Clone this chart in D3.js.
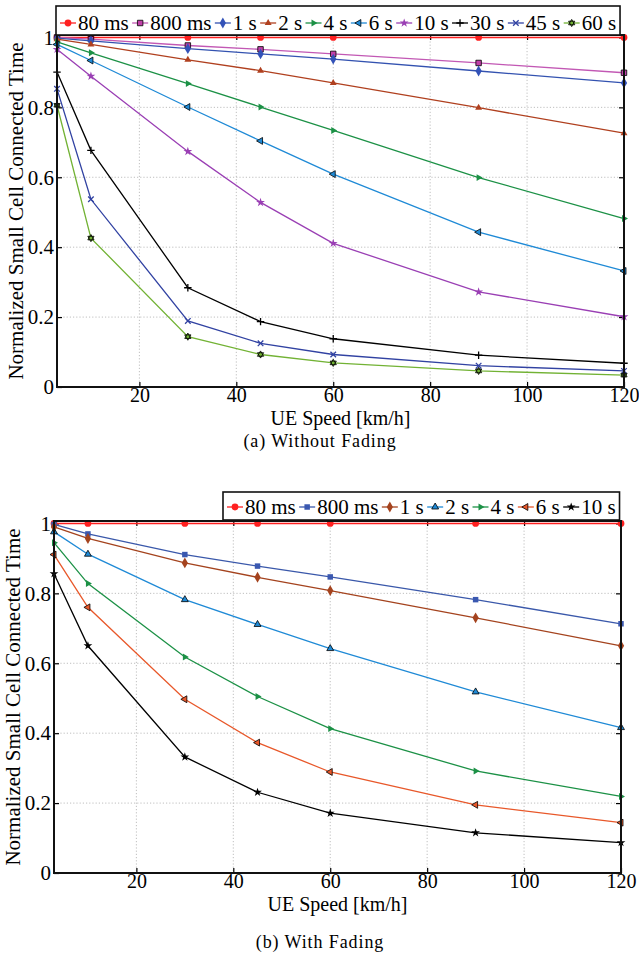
<!DOCTYPE html>
<html>
<head>
<meta charset="utf-8">
<script src="https://cdn.jsdelivr.net/npm/d3@7"></script>
<style>
  body { margin: 0; background: #fff; }
  svg { display: block; }
  text { font-family: "Liberation Serif", "Times New Roman", serif; fill: #000; }
</style>
</head>
<body>
<svg id="fig" width="639" height="969"></svg>
<script>
// ---- data -------------------------------------------------------------
const speeds = [3, 10, 30, 45, 60, 90, 120];          // UE speed [km/h]
const xTicks = [20, 40, 60, 80, 100, 120];
const yTicks = [0, 0.2, 0.4, 0.6, 0.8, 1];
const yTickLabels = ["0", "0.2", "0.4", "0.6", "0.8", "1"];

// (a) without fading: normalized small cell connected time per TTT
const namesA = ["80 ms", "800 ms", "1 s", "2 s", "4 s", "6 s", "10 s", "30 s", "45 s", "60 s"];
const a80ms  = [1.000, 1.000, 1.000, 1.000, 1.000, 1.000, 1.000];
const a800ms = [1.000, 0.995, 0.977, 0.966, 0.953, 0.927, 0.899];
const a1s    = [0.998, 0.990, 0.968, 0.953, 0.938, 0.904, 0.870];
const a2s    = [0.995, 0.980, 0.936, 0.905, 0.870, 0.799, 0.726];
const a4s    = [0.987, 0.956, 0.868, 0.801, 0.734, 0.599, 0.482];
const a6s    = [0.980, 0.934, 0.801, 0.704, 0.609, 0.443, 0.332];
const a10s   = [0.966, 0.889, 0.674, 0.528, 0.411, 0.272, 0.201];
const a30s   = [0.901, 0.677, 0.284, 0.187, 0.138, 0.091, 0.068];
const a45s   = [0.853, 0.537, 0.189, 0.125, 0.093, 0.061, 0.046];
const a60s   = [0.806, 0.426, 0.144, 0.093, 0.069, 0.046, 0.034];

// (b) with fading
const namesB = ["80 ms", "800 ms", "1 s", "2 s", "4 s", "6 s", "10 s"];
const b80ms  = [1.000, 1.000, 1.000, 1.000, 1.000, 1.000, 1.000];
const b800ms = [0.997, 0.970, 0.911, 0.878, 0.847, 0.782, 0.713];
const b1s    = [0.990, 0.957, 0.887, 0.846, 0.808, 0.730, 0.650];
const b2s    = [0.976, 0.912, 0.782, 0.711, 0.642, 0.518, 0.416];
const b4s    = [0.945, 0.828, 0.618, 0.505, 0.413, 0.292, 0.219];
const b6s    = [0.911, 0.760, 0.497, 0.373, 0.289, 0.195, 0.144];
const b10s   = [0.856, 0.650, 0.332, 0.231, 0.171, 0.115, 0.087];

// ---- styles -----------------------------------------------------------
const stylesA = [
  { line: "#ff2020", mark: "circle",   fill: "#ff2020", edge: null },
  { line: "#c258b4", mark: "square",   fill: "#c040a8", edge: "#000" },
  { line: "#3352b0", mark: "diamond",  fill: "#3352b8", edge: null },
  { line: "#b0401f", mark: "triUp",    fill: "#b0401f", edge: null },
  { line: "#1c9146", mark: "triRight", fill: "#1c9146", edge: null },
  { line: "#1f8ad6", mark: "triLeft",  fill: "#1f8ad6", edge: "#000" },
  { line: "#9a3fb4", mark: "star",     fill: "#9a3fb4", edge: null },
  { line: "#000000", mark: "plus",     fill: null,      edge: "#000" },
  { line: "#3142a2", mark: "times",    fill: null,      edge: "#3142a2" },
  { line: "#72b234", mark: "hexagram", fill: "#72b234", edge: "#000" }
];
const stylesB = [
  { line: "#ff2020", mark: "circle",   fill: "#ff2020", edge: null },
  { line: "#3a58aa", mark: "square",   fill: "#3a58b0", edge: null },
  { line: "#a4431e", mark: "diamond",  fill: "#a4431e", edge: null },
  { line: "#1f8ad6", mark: "triUp",    fill: "#1f8ad6", edge: "#000" },
  { line: "#1c9146", mark: "triRight", fill: "#1c9146", edge: null },
  { line: "#e8582a", mark: "triLeft",  fill: "#e8582a", edge: "#000" },
  { line: "#000000", mark: "star",     fill: "#000",    edge: null }
];

function markerPath(kind) {
  const r = 4;
  const tri = (a, s) => {
    const p = [0, 1, 2].map(i => {
      const t = a + i * 2 * Math.PI / 3;
      return [s * Math.cos(t), s * Math.sin(t)];
    });
    return "M" + p.map(q => q[0].toFixed(2) + "," + q[1].toFixed(2)).join("L") + "Z";
  };
  switch (kind) {
    case "circle":   return d3.symbol(d3.symbolCircle, 36)();
    case "square":   return d3.symbol(d3.symbolSquare, 30)();
    case "diamond":  return d3.symbol(d3.symbolDiamond, 34)();
    case "triUp":    return tri(-Math.PI / 2, r);
    case "triRight": return tri(0, r);
    case "triLeft":  return tri(Math.PI, r);
    case "star":     return d3.symbol(d3.symbolStar, 24)();
    case "plus":     return d3.symbol(d3.symbolPlus, 20)();
    case "times":    return d3.symbol(d3.symbolTimes, 22)();
    case "hexagram": return tri(-Math.PI / 2, 3.6) + tri(Math.PI / 2, 3.6);
  }
}

const svg = d3.select("#fig");

function drawPanel(cfg) {
  const { left, right, top, bottom, series, names, styles, legend, caption } = cfg;
  const yMax = 1.007;
  const x = d3.scaleLinear().domain([3, 120]).range([left, right]);
  const y = d3.scaleLinear().domain([0, yMax]).range([bottom, top]);
  const g = svg.append("g");

  // dotted grid
  g.append("g").selectAll("line").data(xTicks.filter(t => t < 120)).join("line")
    .attr("x1", d => x(d)).attr("x2", d => x(d)).attr("y1", top).attr("y2", bottom)
    .attr("stroke", "#b8b8b8").attr("stroke-width", 0.9).attr("stroke-dasharray", "1.2,2");
  g.append("g").selectAll("line").data(yTicks.filter(t => t > 0 && t < 1)).join("line")
    .attr("y1", d => y(d)).attr("y2", d => y(d)).attr("x1", left).attr("x2", right)
    .attr("stroke", "#b8b8b8").attr("stroke-width", 0.9).attr("stroke-dasharray", "1.2,2");

  // axes with inward ticks on all four sides
  const ax = (gen, tr, fs) => {
    const a = g.append("g").attr("transform", tr).call(gen);
    a.select(".domain").remove();
    a.selectAll(".tick line").attr("stroke", "#000").attr("stroke-width", 1.2);
    a.selectAll("text").style("font-size", fs).style("font-family", "'Liberation Serif', serif");
    return a;
  };
  ax(d3.axisBottom(x).tickValues(xTicks).tickSizeInner(-5).tickSizeOuter(0).tickPadding(1),
     `translate(0,${bottom})`, "20px");
  ax(d3.axisTop(x).tickValues(xTicks).tickSizeInner(-5).tickSizeOuter(0).tickFormat(""),
     `translate(0,${top})`, "20px");
  ax(d3.axisLeft(y).tickValues(yTicks).tickSizeInner(-5).tickSizeOuter(0).tickPadding(3)
       .tickFormat((d, i) => yTickLabels[i]), `translate(${left},0)`, "21px");
  ax(d3.axisRight(y).tickValues(yTicks).tickSizeInner(-5).tickSizeOuter(0).tickFormat(""),
     `translate(${right},0)`, "20px");

  // series
  const line = d3.line().x((d, i) => x(speeds[i])).y(d => y(d));
  series.forEach((vals, k) => {
    const st = styles[k];
    g.append("path").attr("d", line(vals)).attr("fill", "none")
      .attr("stroke", st.line).attr("stroke-width", k === 0 ? 1.6 : 1.3);
    g.append("g").selectAll("path").data(vals).join("path")
      .attr("transform", (d, i) => `translate(${x(speeds[i])},${y(d)})`)
      .attr("d", markerPath(st.mark))
      .attr("fill", st.fill || "none")
      .attr("stroke", st.edge || "none")
      .attr("stroke-width", st.fill ? 0.8 : 1.3);
  });

  // frame
  g.append("rect").attr("x", left).attr("y", top).attr("width", right - left).attr("height", bottom - top)
    .attr("fill", "none").attr("stroke", "#111").attr("stroke-width", 2);

  // axis titles
  g.append("text").attr("x", (left + right) / 2).attr("y", bottom + 38)
    .attr("text-anchor", "middle").style("font-size", "20px").text("UE Speed [km/h]");
  g.append("text").attr("transform", `translate(${left - 34},${(top + bottom) / 2}) rotate(-90)`)
    .attr("text-anchor", "middle").style("font-size", "21px").text("Normalized Small Cell Connected Time");

  // legend
  const lg = g.append("g");
  const box = lg.append("rect").attr("fill", "#fff").attr("stroke", "#111").attr("stroke-width", 1.6);
  let cx = legend.x + 4;
  names.forEach((nm, k) => {
    const st = styles[k];
    lg.append("line").attr("x1", cx).attr("x2", cx + 16).attr("y1", legend.base - 7).attr("y2", legend.base - 7)
      .attr("stroke", st.line).attr("stroke-width", 1.3);
    lg.append("path").attr("transform", `translate(${cx + 8},${legend.base - 7})`)
      .attr("d", markerPath(st.mark)).attr("fill", st.fill || "none")
      .attr("stroke", st.edge || "none").attr("stroke-width", st.fill ? 0.8 : 1.3);
    const t = lg.append("text").attr("x", cx + 18).attr("y", legend.base).style("font-size", "21px").text(nm);
    cx += 18 + t.node().getComputedTextLength() + 3.4;
  });
  box.attr("x", legend.x).attr("y", legend.top).attr("width", cx - legend.x + 0.5).attr("height", legend.h);

  // caption
  g.append("text").attr("x", 320).attr("y", caption.y).attr("text-anchor", "middle")
    .style("font-size", "18px").style("letter-spacing", "0.9px").text(caption.text);
}

drawPanel({
  left: 57, right: 624, top: 35, bottom: 387,
  series: [a80ms, a800ms, a1s, a2s, a4s, a6s, a10s, a30s, a45s, a60s],
  names: namesA, styles: stylesA,
  legend: { x: 56, top: 6, h: 29, base: 30 },
  caption: { y: 447, text: "(a) Without Fading" }
});
drawPanel({
  left: 54, right: 621, top: 521, bottom: 873,
  series: [b80ms, b800ms, b1s, b2s, b4s, b6s, b10s],
  names: namesB, styles: stylesB,
  legend: { x: 223, top: 492, h: 28, base: 514 },
  caption: { y: 948, text: "(b) With Fading" }
});
</script>
</body>
</html>
